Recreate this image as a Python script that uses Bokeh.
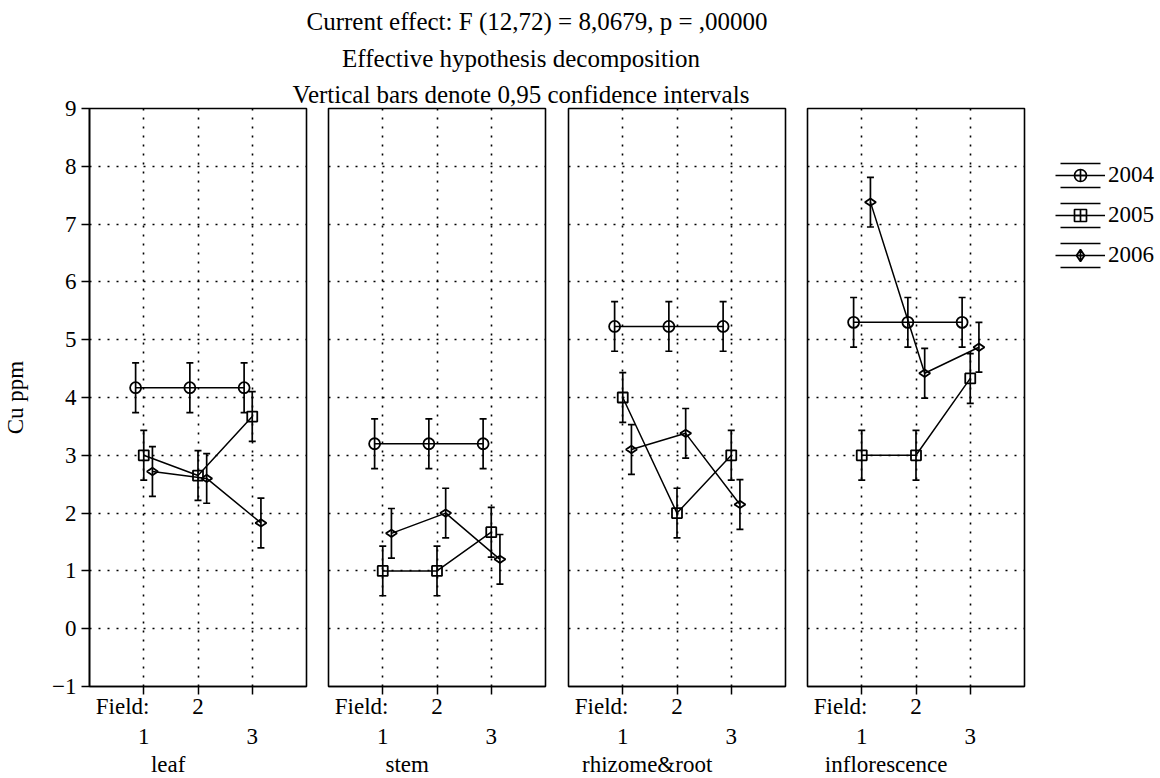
import math
from bokeh.plotting import figure
from bokeh.models import (Range1d, FixedTicker, LinearAxis, ColumnDataSource,
                          Whisker, TeeHead, Legend, LegendItem, Div)
from bokeh.layouts import row, column
from bokeh.embed import file_html
from bokeh.resources import INLINE

# ---------------- data ----------------
title_lines = [
    "Current effect: F (12,72) = 8,0679, p = ,00000",
    "Effective hypothesis decomposition",
    "Vertical bars denote 0,95 confidence intervals",
]
categories = ["leaf", "stem", "rhizome&root", "inflorescence"]
fields = [1, 2, 3]
years = ["2004", "2005", "2006"]

# mean Cu ppm per category (rows) and field (columns)
cu_2004 = [[4.17, 4.17, 4.17],
           [3.20, 3.20, 3.20],
           [5.23, 5.23, 5.23],
           [5.30, 5.30, 5.30]]
cu_2005 = [[3.00, 2.65, 3.67],
           [1.00, 1.00, 1.67],
           [4.00, 2.00, 3.00],
           [3.00, 3.00, 4.33]]
cu_2006 = [[2.72, 2.60, 1.83],
           [1.65, 2.00, 1.20],
           [3.10, 3.38, 2.15],
           [7.38, 4.42, 4.87]]
ci_half = 0.43  # half width of the 0.95 confidence interval

y_ticks = [-1, 0, 1, 2, 3, 4, 5, 6, 7, 8, 9]
y_grid = [0, 1, 2, 3, 4, 5, 6, 7, 8]
y_label = "Cu ppm"
x_title = "Field:"

values = {"2004": cu_2004, "2005": cu_2005, "2006": cu_2006}

# ---------------- style ----------------
FONT = "Liberation Serif"
FS = "23px"
INK = "black"
year_offsets = [-0.15, 0.0, 0.16]
markers = ["circle", "square", "diamond"]
legend_markers = ["circle_cross", "square_cross", "diamond_cross"]
marker_sizes = [11, 10, 11]
marker_angles = [0.0, 0.0, math.pi / 2]
left_borders = [82, 19, 20, 19]

panels = []
for i, cat in enumerate(categories):
    first = i == 0
    last = i == len(categories) - 1
    p = figure(frame_width=217, frame_height=578,
               x_range=Range1d(0, 4), y_range=Range1d(-1, 9),
               output_backend="svg", toolbar_location=None,
               min_border_top=13, min_border_bottom=0,
               min_border_left=left_borders[i],
               min_border_right=127 if last else 3,
               outline_line_color=INK, outline_line_width=1.6,
               background_fill_color="white", border_fill_alpha=0)

    # y axis
    yax = p.yaxis[0]
    if first:
        yax.ticker = FixedTicker(ticks=y_ticks)
        yax.major_label_overrides = {-1: "\u22121"}
        yax.major_tick_out = 8
        yax.major_tick_in = 0
        yax.minor_tick_line_color = None
        yax.axis_line_width = 1.6
        yax.axis_line_color = INK
        yax.major_tick_line_width = 1.5
        yax.major_tick_line_color = INK
        yax.major_label_standoff = 5
        yax.major_label_text_font = FONT
        yax.major_label_text_font_size = FS
        yax.major_label_text_color = INK
        yax.axis_label = y_label
        yax.axis_label_text_font = FONT
        yax.axis_label_text_font_size = FS
        yax.axis_label_text_font_style = "normal"
        yax.axis_label_text_color = INK
        yax.axis_label_standoff = 21
    else:
        yax.visible = False

    # x axis row 1: ticks + "Field:" and "2"
    xa = p.xaxis[0]
    xa.ticker = FixedTicker(ticks=[0.61, 2], minor_ticks=fields)
    xa.major_tick_line_color = None
    xa.major_tick_out = 0
    xa.major_tick_in = 0
    xa.minor_tick_out = 8
    xa.minor_tick_in = 0
    xa.minor_tick_line_width = 1.5
    xa.minor_tick_line_color = INK
    xa.axis_line_width = 1.6
    xa.axis_line_color = INK
    xa.major_label_overrides = {0.61: x_title, 2: "2"}
    xa.major_label_standoff = -1
    xa.major_label_text_font = FONT
    xa.major_label_text_font_size = FS
    xa.major_label_text_color = INK

    # x axis row 2: "1" and "3"
    xb = LinearAxis(ticker=FixedTicker(ticks=[1, 3]), axis_line_color=None,
                    major_tick_line_color=None, minor_tick_line_color=None,
                    major_label_standoff=1, major_label_text_color=INK,
                    major_label_text_font=FONT, major_label_text_font_size=FS)
    p.add_layout(xb, "below")
    # x axis row 3: category name
    xc = LinearAxis(ticker=FixedTicker(ticks=[1.45]), axis_line_color=None,
                    major_tick_line_color=None, minor_tick_line_color=None,
                    major_label_standoff=-1, major_label_text_color=INK,
                    major_label_overrides={1.45: cat},
                    major_label_text_font=FONT, major_label_text_font_size=FS)
    p.add_layout(xc, "below")

    # grids
    p.xgrid.ticker = FixedTicker(ticks=fields)
    p.ygrid.ticker = FixedTicker(ticks=y_grid)
    for g in (p.xgrid[0], p.ygrid[0]):
        g.grid_line_color = INK
        g.grid_line_width = 1.6
        g.grid_line_dash = "2 7"

    line_rs = []
    for k, yr in enumerate(years):
        ys = values[yr][i]
        xs = [f + year_offsets[k] for f in fields]
        src = ColumnDataSource(dict(x=xs, y=ys,
                                    lower=[v - ci_half for v in ys],
                                    upper=[v + ci_half for v in ys]))
        lr = p.line("x", "y", source=src, line_color=INK, line_width=1.5)
        line_rs.append(lr)
        p.add_layout(Whisker(base="x", lower="lower", upper="upper", source=src,
                             line_color=INK, line_width=1.7,
                             upper_head=TeeHead(size=7, line_width=1.7, line_color=INK),
                             lower_head=TeeHead(size=7, line_width=1.7, line_color=INK)))
        p.scatter("x", "y", source=src, marker=markers[k], size=marker_sizes[k],
                  angle=marker_angles[k], fill_color=None, line_color=INK,
                  line_width=1.8)

    if last:
        items = []
        for k, yr in enumerate(years):
            leg_src = ColumnDataSource(dict(x=[float("nan")], y=[float("nan")]))
            bar_r = p.rect("x", "y", width=1, height=1, source=leg_src,
                           fill_color=None, line_color=INK, line_width=1.7,
                           line_dash="40 24")
            mk_r = p.scatter("x", "y", source=leg_src, marker=legend_markers[k],
                             size=12, fill_color=None, line_color=INK,
                             line_width=1.7)
            items.append(LegendItem(label=yr, renderers=[line_rs[k], bar_r, mk_r]))
        leg = Legend(items=items, location=(31, 416), margin=0, padding=0,
                     spacing=10, glyph_width=50, glyph_height=30,
                     label_standoff=3, border_line_color=None,
                     background_fill_alpha=0, label_text_font=FONT,
                     label_text_font_size=FS, label_text_color=INK)
        p.add_layout(leg, "right")
    panels.append(p)

title_html = (
    "<div style='width:1030px;margin-left:6px;margin-top:4px;"
    "font-family:\"Liberation Serif\";font-size:25px;line-height:36.5px;"
    "text-align:center;color:black;white-space:nowrap'>"
    "<span style='position:relative;left:16px'>" + title_lines[0] + "</span><br>"
    + title_lines[1] + "<br>" + title_lines[2] + "</div>"
)
div = Div(text=title_html, width=1030, height=95, margin=(0, 0, 0, 0),
          styles={"overflow": "visible"})

layout = column(div, row(*panels))
open("out.html", "w").write(file_html(layout, INLINE))
